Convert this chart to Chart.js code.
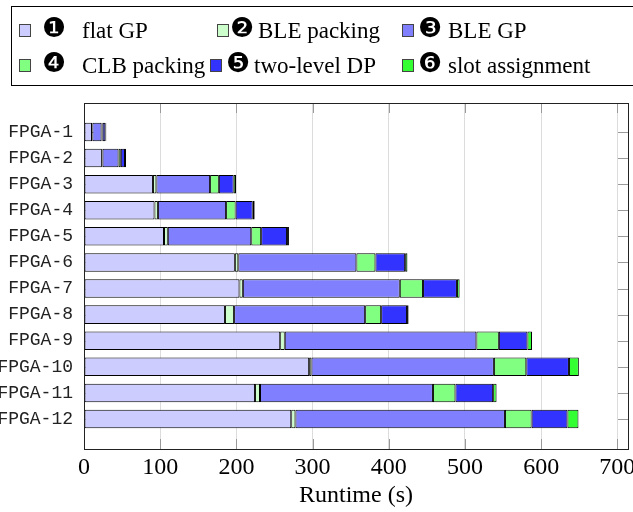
<!DOCTYPE html>
<html>
<head>
<meta charset="utf-8">
<script src="https://cdn.jsdelivr.net/npm/chart.js@4.4.1/dist/chart.umd.min.js"></script>
<style>
  html, body { margin: 0; padding: 0; overflow: hidden; background: #fff; width: 633px; height: 512px; }
  #wrap { position: absolute; left: 0; top: 0; width: 660px; height: 512px; }
</style>
</head>
<body>
<div id="wrap"><canvas id="c" width="660" height="512"></canvas></div>
<script>
// Benchmarks (one horizontal stacked bar each)
const categories = ['FPGA-1', 'FPGA-2', 'FPGA-3', 'FPGA-4', 'FPGA-5', 'FPGA-6',
                    'FPGA-7', 'FPGA-8', 'FPGA-9', 'FPGA-10', 'FPGA-11', 'FPGA-12'];

// Flow stages, in stacking order
const stageNames = ['flat GP', 'BLE packing', 'BLE GP', 'CLB packing', 'two-level DP', 'slot assignment'];
const stageMarks = ['\u2776', '\u2777', '\u2778', '\u2779', '\u277A', '\u277B'];

// Runtime of each stage, seconds
const flatGP         = [10.5, 23.5, 90.5, 92.5, 105, 198, 204, 185, 257.5, 295.5, 224.5, 272];
const blePacking     = [0.5, 0.8, 4.5, 4.5, 5, 4.5, 4.5, 12, 6, 3, 6.5, 5.5];
const bleGP          = [12, 21, 70.5, 89.5, 109.5, 155, 206, 172, 251.5, 239.5, 227, 275];
const clbPacking     = [1.5, 3, 11.5, 12.5, 13, 25, 30.5, 21, 29.5, 42.5, 29.5, 35];
const twoLevelDP     = [3.5, 5.5, 19.5, 22.5, 34, 39, 44.5, 34, 37.5, 56, 49.5, 47];
const slotAssignment = [1.3, 1.4, 3, 2.5, 2.5, 3, 3.5, 2, 6, 13, 4.5, 14.5];

const xTicks = [0, 100, 200, 300, 400, 500, 600, 700];

const stageColors = ['#ccccff', '#ccffcc', '#8080ff', '#80ff80', '#3333ff', '#33ff33'];
const stageSeries = [flatGP, blePacking, bleGP, clbPacking, twoLevelDP, slotAssignment];

const SERIF = "'Liberation Serif', 'Times New Roman', serif";
const MONO = "'Liberation Mono', 'DejaVu Sans Mono', monospace";

// Inward tick marks and the closed axis frame
const axisFrame = {
  id: 'axisFrame',
  beforeDatasetsDraw(chart) {
    const { ctx, chartArea: a, scales: { x, y } } = chart;
    const len = 10;
    ctx.save();
    ctx.strokeStyle = '#9a9a9a';
    ctx.lineWidth = 1;
    ctx.beginPath();
    xTicks.forEach(v => {
      const px = Math.round(x.getPixelForValue(v)) + 0.5;
      ctx.moveTo(px, a.top); ctx.lineTo(px, a.top + len);
      ctx.moveTo(px, a.bottom); ctx.lineTo(px, a.bottom - len);
    });
    categories.forEach((_, i) => {
      const py = Math.round(y.getPixelForValue(i + 1)) + 0.5;
      ctx.moveTo(a.left, py); ctx.lineTo(a.left + len, py);
      ctx.moveTo(a.right, py); ctx.lineTo(a.right - len, py);
    });
    ctx.stroke();
    ctx.restore();
  },
  afterDatasetsDraw(chart) {
    const { ctx, chartArea: a } = chart;
    ctx.save();
    ctx.strokeStyle = '#222';
    ctx.lineWidth = 1;
    const l = Math.round(a.left) + 0.5, t = Math.round(a.top) + 0.5;
    const r = Math.round(a.right) + 0.5, b = Math.round(a.bottom) + 0.5;
    ctx.strokeRect(l, t, r - l, b - t);
    ctx.restore();
  }
};

// Boxed legend laid out in three columns
const boxedLegend = {
  id: 'boxedLegend',
  afterDraw(chart) {
    const { ctx } = chart;
    const rowY = [30, 65];
    const slots = [
      { sx: 19, dx: 44, tx: 82, row: 0 },
      { sx: 217, dx: 232, tx: 258, row: 0 },
      { sx: 402, dx: 420, tx: 448, row: 0 },
      { sx: 19, dx: 44, tx: 82, row: 1 },
      { sx: 210, dx: 228, tx: 254, row: 1 },
      { sx: 402, dx: 420, tx: 448, row: 1 }
    ];
    ctx.save();
    ctx.strokeStyle = '#000';
    ctx.lineWidth = 1;
    ctx.strokeRect(11.5, 6.5, 690, 79);
    chart.data.datasets.forEach((ds, k) => {
      const s = slots[k];
      const cy = rowY[s.row];
      ctx.fillStyle = ds.backgroundColor;
      ctx.fillRect(s.sx, cy - 6, 11, 12);
      ctx.strokeStyle = '#444';
      ctx.strokeRect(s.sx + 0.5, cy - 5.5, 11, 12);
      ctx.fillStyle = '#000';
      ctx.textAlign = 'left';
      ctx.textBaseline = 'middle';
      ctx.font = "27px 'DejaVu Sans'";
      ctx.fillText(stageMarks[k], s.dx - 2, cy);
      ctx.textBaseline = 'alphabetic';
      ctx.font = '23px ' + SERIF;
      ctx.fillText(ds.label, s.tx, cy + 8);
    });
    ctx.restore();
  }
};

new Chart(document.getElementById('c'), {
  type: 'bar',
  data: {
    datasets: stageSeries.map((vals, k) => ({
      label: stageNames[k],
      data: vals.map((v, i) => ({ x: v, y: i + 1 })),
      backgroundColor: stageColors[k],
      borderColor: '#000',
      borderWidth: 1,
      borderSkipped: false,
      barPercentage: 0.71,
      categoryPercentage: 1
    }))
  },
  options: {
    responsive: false,
    animation: false,
    indexAxis: 'y',
    layout: { padding: { top: 103, left: 0, right: 32, bottom: 0 } },
    plugins: { legend: { display: false }, tooltip: { enabled: false } },
    scales: {
      x: {
        type: 'linear',
        stacked: true,
        min: 0,
        max: 714,
        afterBuildTicks: s => { s.ticks = xTicks.map(v => ({ value: v })); },
        afterFit: s => { s.height = 63; s.paddingLeft = 0; s.paddingRight = 0; },
        grid: { color: '#dcdcdc', lineWidth: 1, drawTicks: false },
        border: { display: false },
        ticks: { font: { family: SERIF, size: 24 }, color: '#000', padding: 4, maxRotation: 0, autoSkip: false },
        title: { display: true, text: 'Runtime (s)', font: { family: SERIF, size: 24 }, color: '#000', padding: { top: 0, bottom: 2 } }
      },
      y: {
        type: 'linear',
        stacked: true,
        reverse: true,
        offset: false,
        min: -0.11,
        max: 13.15,
        afterBuildTicks: s => { s.ticks = categories.map((_, i) => ({ value: i + 1 })); },
        afterFit: s => { s.width = 84; s.paddingTop = 0; s.paddingBottom = 0; },
        grid: { display: false, drawTicks: false, offset: false },
        border: { display: false },
        ticks: {
          callback: v => categories[Math.round(v) - 1],
          font: { family: MONO, size: 18 },
          color: '#222',
          padding: 11,
          autoSkip: false
        }
      }
    }
  },
  plugins: [axisFrame, boxedLegend]
});
</script>
</body>
</html>
